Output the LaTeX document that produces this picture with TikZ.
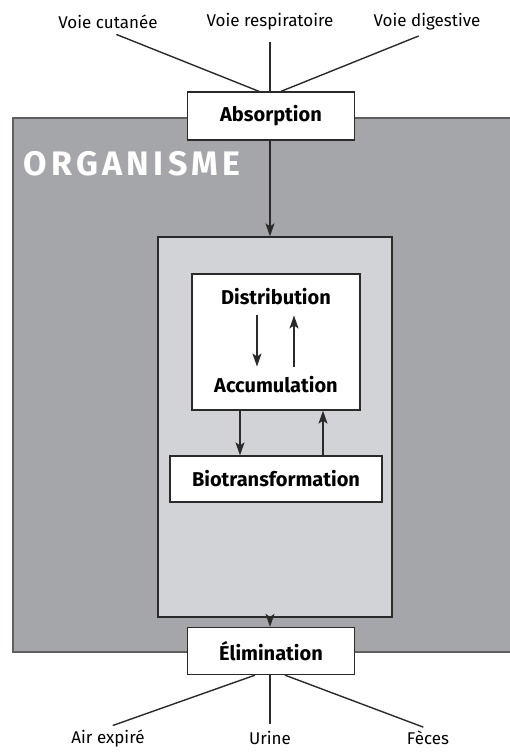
\documentclass[tikz,border=0pt]{standalone}
\usepackage{fontspec}
\setmainfont{Fira Sans}
\usetikzlibrary{arrows.meta}
\definecolor{orggris}{HTML}{A5A6AA}
\definecolor{milieugris}{HTML}{D2D3D6}
\definecolor{trait}{HTML}{2A2A2A}
\tikzset{x=1pt, y=-1pt,
    voie/.style={font=\fontsize{17}{19}\selectfont, inner sep=2pt},
    etape/.style={draw=trait, fill=white, line width=1.3pt,
        font=\fontsize{20}{22}\selectfont\bfseries, inner sep=0pt},
    texte/.style={font=\fontsize{20}{22}\selectfont\bfseries, inner sep=2pt},
    lien/.style={draw=trait, line width=1.4pt},
    fleche/.style={lien, -{Stealth[length=13pt,width=9pt,inset=3pt]}},
    }

\begin{document}
\begin{tikzpicture}
\useasboundingbox (0,0) rectangle (510,753);
\clip (0,0) rectangle (510,753);
% voies d'entree
\node[voie] (cut) at (108,22) {Voie cutanée};
\node[voie] (resp) at (270,22) {Voie respiratoire};
\node[voie] (dig) at (427,22) {Voie digestive};
% organisme
\fill[orggris] (13,118) rectangle (520,652);
\draw[lien, draw=trait!75] (520,118) -- (13,118) -- (13,652) -- (520,652);
\node[anchor=west, inner sep=0pt, text=white,
    font=\fontsize{34}{37}\selectfont\bfseries\addfontfeatures{LetterSpace=13}]
    (org) at (23,164) {ORGANISME};
\node[etape, minimum width=167, minimum height=48] (abs) at (271,116) {Absorption};
\node[etape, minimum width=167, minimum height=47] (elim) at (271,651) {Élimination};
% milieu interieur
\node[draw=trait, fill=milieugris, line width=1.3pt, minimum width=234,
    minimum height=380] (milieu) at (275,427) {};
\node[etape, minimum width=168, minimum height=136] (stock) at (276,342) {};
\node[texte] (distr) at (276,297) {Distribution};
\node[texte] (accu) at (276,385) {Accumulation};
\node[etape, minimum width=212, minimum height=46] (bio) at (276,479) {Biotransformation};
% absorption
\draw[lien, shorten <=9pt] (cut.south) -- ([xshift=-12pt]abs.north);
\draw[lien, shorten <=9pt] (resp.south) -- (abs.north -| resp.south);
\draw[lien, shorten <=9pt] (dig.south) -- ([xshift=10pt]abs.north);
\draw[fleche] (abs.south -| 270,0) -- (milieu.north -| 270,0);
% echanges
\draw[fleche] ([xshift=-19pt, yshift=-8pt]distr.south) -- ([xshift=-19pt, yshift=8pt]accu.north);
\draw[fleche] ([xshift=18pt, yshift=8pt]accu.north) -- ([xshift=18pt, yshift=-8pt]distr.south);
\draw[fleche] (stock.south -| 240,0) -- (bio.north -| 240,0);
\draw[fleche] (bio.north -| 323,0) -- (stock.south -| 323,0);
\draw[fleche] (milieu.south -| 270,0) -- (elim.north -| 270,0);
% elimination
\node[voie] (air) at (108,738) {Air expiré};
\node[voie] (urine) at (270,738) {Urine};
\node[voie] (feces) at (428,738) {Fèces};
\draw[lien, shorten >=5pt] ([xshift=-16pt]elim.south) -- (air.north);
\draw[lien, shorten >=5pt] (elim.south -| urine.north) -- (urine.north);
\draw[lien, shorten >=5pt] ([xshift=14pt]elim.south) -- (feces.north);
\end{tikzpicture}
\end{document}
